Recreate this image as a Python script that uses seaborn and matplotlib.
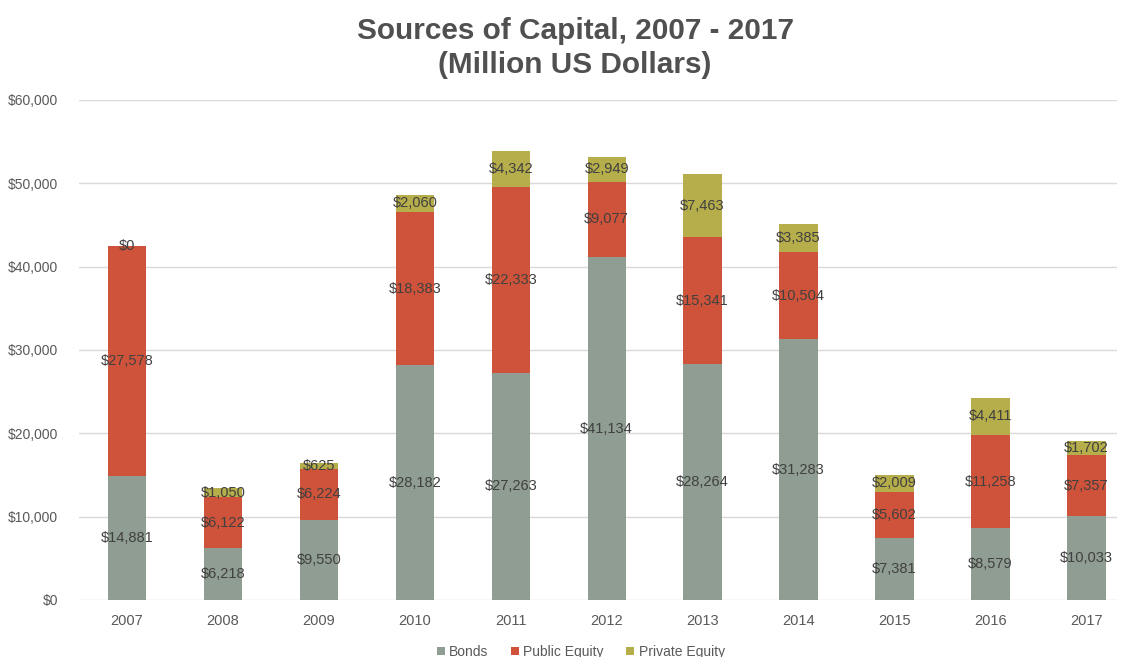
import matplotlib
matplotlib.use("Agg")
import matplotlib.pyplot as plt
import seaborn as sns
import pandas as pd
import numpy as np
from matplotlib.patches import Patch

years = ["2007", "2008", "2009", "2010", "2011", "2012", "2013", "2014", "2015", "2016", "2017"]
bonds = [14881, 6218, 9550, 28182, 27263, 41134, 28264, 31283, 7381, 8579, 10033]
public_equity = [27578, 6122, 6224, 18383, 22333, 9077, 15341, 10504, 5602, 11258, 7357]
private_equity = [0, 1050, 625, 2060, 4342, 2949, 7463, 3385, 2009, 4411, 1702]
series_names = ["Bonds", "Public Equity", "Private Equity"]
y_ticks = [0, 10000, 20000, 30000, 40000, 50000, 60000]

colors = ["#8F9D92", "#CF533A", "#B6AE4B"]
label_color = "#404040"
tick_color = "#595959"
title_color = "#505050"

sns.set_theme(style="white")
plt.rcParams["font.family"] = ["Liberation Sans", "DejaVu Sans"]

df = pd.DataFrame({
    "year": years,
    "Bonds": bonds,
    "Public Equity": public_equity,
    "Private Equity": private_equity,
})
df["lvl1"] = df["Bonds"]
df["lvl2"] = df["Bonds"] + df["Public Equity"]
df["lvl3"] = df["lvl2"] + df["Private Equity"]

fig = plt.figure(figsize=(11.21, 6.57), dpi=100)
ax = fig.add_axes([0.0705, 0.0868, 0.926, 0.7610])

# Stacked bars: draw cumulative totals from the top layer down
bar_w = 0.40
for col, color in zip(["lvl3", "lvl2", "lvl1"], colors[::-1]):
    sns.barplot(data=df, x="year", y=col, color=color, width=bar_w,
                saturation=1, ax=ax, linewidth=0, zorder=3)

# Segment value labels
bottoms = np.zeros(len(years))
for vals in [bonds, public_equity, private_equity]:
    for i, v in enumerate(vals):
        ax.text(i, bottoms[i] + v / 2, f"${v:,}", ha="center", va="center",
                fontsize=10.5, color=label_color, zorder=5)
    bottoms = bottoms + np.array(vals)

ax.set_xlim(-0.5, 10.32)
ax.set_ylim(0, 60000)
ax.set_yticks(y_ticks)
ax.set_yticklabels([f"${t:,}" for t in y_ticks])
ax.yaxis.grid(True, color="#D9D9D9", linewidth=1, zorder=0)
ax.set_axisbelow(True)
for s in ax.spines.values():
    s.set_visible(False)
ax.set_xlabel("")
ax.set_ylabel("")
ax.tick_params(axis="y", length=0, pad=15, labelsize=10, labelcolor=tick_color)
ax.tick_params(axis="x", length=0, pad=10, labelsize=10.5, labelcolor=tick_color)

# Two-line title
fig.text(0.513, 1 - 39 / 657, "Sources of Capital, 2007 - 2017", ha="center", va="baseline",
         fontsize=21.4, fontweight="bold", color=title_color)
fig.text(0.513, 1 - 73 / 657, "(Million US Dollars)", ha="center", va="baseline",
         fontsize=21.4, fontweight="bold", color=title_color)

handles = [Patch(facecolor=c, edgecolor="none") for c in colors]
fig.legend(handles, series_names, loc="lower center", bbox_to_anchor=(0.518, -0.022),
           ncol=3, frameon=False, fontsize=10, labelcolor=tick_color,
           handlelength=0.6, handleheight=0.6, handletextpad=0.3, columnspacing=1.6)

fig.savefig("out.png", dpi=100)
